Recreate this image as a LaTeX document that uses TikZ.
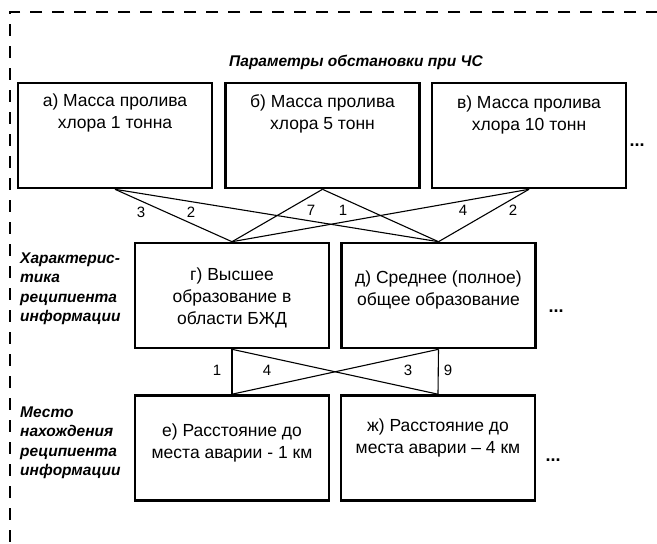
\documentclass[tikz,border=0pt]{standalone}
\usepackage{fontspec}
\setmainfont{Liberation Sans}
\usetikzlibrary{positioning}

\tikzset{
	box/.style={draw, line width=2.6pt, minimum width=194pt, minimum height=105pt, inner sep=0pt},
	boxtext/.style={align=center, inner sep=0pt, font=\fontsize{17.5}{22}\selectfont},
	head/.style={align=left, anchor=west, inner sep=0pt, font=\fontsize{15.5}{19.5}\selectfont\bfseries\itshape},
	num/.style={inner sep=0pt, font=\fontsize{15}{15}\selectfont},
	link/.style={line width=1.1pt},
	more/.style={inner sep=0pt, font=\fontsize{18}{18}\selectfont\bfseries}
}

\begin{document}
\begin{tikzpicture}[x=1pt, y=-1pt]
		\useasboundingbox (0,0) rectangle (657,544);
		% frame
		\draw[line width=1.8pt, dash pattern=on 12pt off 10pt] (680,12) -- (10,12) -- (10,570);

		\node[head, anchor=center] (title) at (356,62) {Параметры обстановки при ЧС};

		% parameters
		\node[box] (a) at (115,135.5) {};
		\node[box] (b) at (322.5,135.5) {};
		\node[box] (c) at (529,135.5) {};
		\node[boxtext, below=12pt of a.north] (ta) {а) Масса пролива\\хлора 1 тонна};
		\node[boxtext, below=13pt of b.north] (tb) {б) Масса пролива\\хлора 5 тонн};
		\node[boxtext, below=14pt of c.north] (tc) {в) Масса пролива\\хлора 10 тонн};
		\node[more] (m1) at (637,145) {...};

		% recipient
		\node[head] (h1) at (20,289) {Характерис-\\тика\\реципиента\\информации};
		\node[box] (g) at (232,295.5) {};
		\node[box] (d) at (438.5,295.5) {};
		\node[boxtext, below=26pt of g.north] (tg) {г) Высшее\\образование в\\области БЖД};
		\node[boxtext, below=29pt of d.north] (td) {д) Среднее (полное)\\общее образование};
		\node[more] (m2) at (556,311) {...};

		% place
		\node[head] (h2) at (20,443) {Место\\нахождения\\реципиента\\информации};
		\node[box] (e) at (232,448) {};
		\node[box] (zh) at (438,448) {};
		\node[boxtext, below=29pt of e.north] (te) {е) Расстояние до\\места аварии - 1 км};
		\node[boxtext, below=24pt of zh.north] (tzh) {ж) Расстояние до\\места аварии -- 4 км};
		\node[more] (m3) at (553,460) {...};

		% links
		\foreach \s in {a,b,c}
		\foreach \t in {g,d}
		\draw[link] (\s.south) -- (\t.north);
		\foreach \s in {g,d}
		\foreach \t in {e,zh}
		\draw[link] (\s.south) -- (\t.north);

		\node[num] (n1) at (141,212) {3};
		\node[num] (n2) at (191,212) {2};
		\node[num] (n3) at (311,210) {7};
		\node[num] (n4) at (343,210) {1};
		\node[num] (n5) at (463,210) {4};
		\node[num] (n6) at (513,210) {2};
		\node[num] (n7) at (217,370) {1};
		\node[num] (n8) at (267,370) {4};
		\node[num] (n9) at (408,370) {3};
		\node[num] (n10) at (448,370) {9};
\end{tikzpicture}
\end{document}
